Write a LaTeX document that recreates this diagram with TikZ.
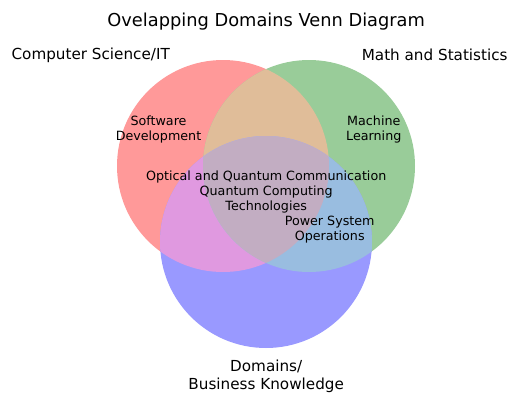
\documentclass[tikz,border=0pt]{standalone}
\usepackage{fontspec}
\setmainfont{DejaVu Sans}
\definecolor{onlyA}{RGB}{255,153,153}
\definecolor{onlyB}{RGB}{153,204,153}
\definecolor{onlyC}{RGB}{153,153,255}
\definecolor{mixAB}{RGB}{224,189,153}
\definecolor{mixAC}{RGB}{224,153,224}
\definecolor{mixBC}{RGB}{153,189,224}
\definecolor{mixABC}{RGB}{194,173,194}
\tikzset{
  region/.style={inner sep=0pt, align=center, font=\fontsize{12.7}{15}\selectfont},
  setlabel/.style={inner sep=0pt, align=center, font=\fontsize{15.2}{18}\selectfont},
  titlelabel/.style={inner sep=0pt, font=\fontsize{17.8}{20}\selectfont},
}
\begin{document}
\begin{tikzpicture}[x=1pt,y=-1pt]
\useasboundingbox (0,0) rectangle (509,394);
% circle centres and radius
\def\rad{106}
\coordinate (cA) at (223,166);
\coordinate (cB) at (309,166);
\coordinate (cC) at (266,242);
% single-set areas
\fill[onlyA] (cA) circle[radius=\rad];
\fill[onlyB] (cB) circle[radius=\rad];
\fill[onlyC] (cC) circle[radius=\rad];
% pairwise overlaps
\begin{scope}
  \clip (cA) circle[radius=\rad];
  \fill[mixAB] (cB) circle[radius=\rad];
  \fill[mixAC] (cC) circle[radius=\rad];
\end{scope}
\begin{scope}
  \clip (cB) circle[radius=\rad];
  \fill[mixBC] (cC) circle[radius=\rad];
\end{scope}
% triple overlap
\begin{scope}
  \clip (cA) circle[radius=\rad];
  \clip (cB) circle[radius=\rad];
  \fill[mixABC] (cC) circle[radius=\rad];
\end{scope}
% title and set labels
\node[titlelabel] (title) at (266.2,21.5) {Ovelapping Domains Venn Diagram};
\node[setlabel] (setA) at (90.7,55) {Computer Science/IT};
\node[setlabel] (setB) at (434.7,55) {Math and Statistics};
\node[setlabel] (setC) at (266.2,376.5) {Domains/\\Business Knowledge};
% region labels
\node[region] (sw) at (158.5,129) {Software\\Development};
\node[region] (ml) at (373.8,129) {Machine\\Learning};
\node[region] (oq) at (266.2,177) {Optical and Quantum Communication};
\node[region] (qc) at (266.2,199.5) {Quantum Computing\\Technologies};
\node[region] (ps) at (329.7,229.5) {Power System\\Operations};
\end{tikzpicture}
\end{document}
